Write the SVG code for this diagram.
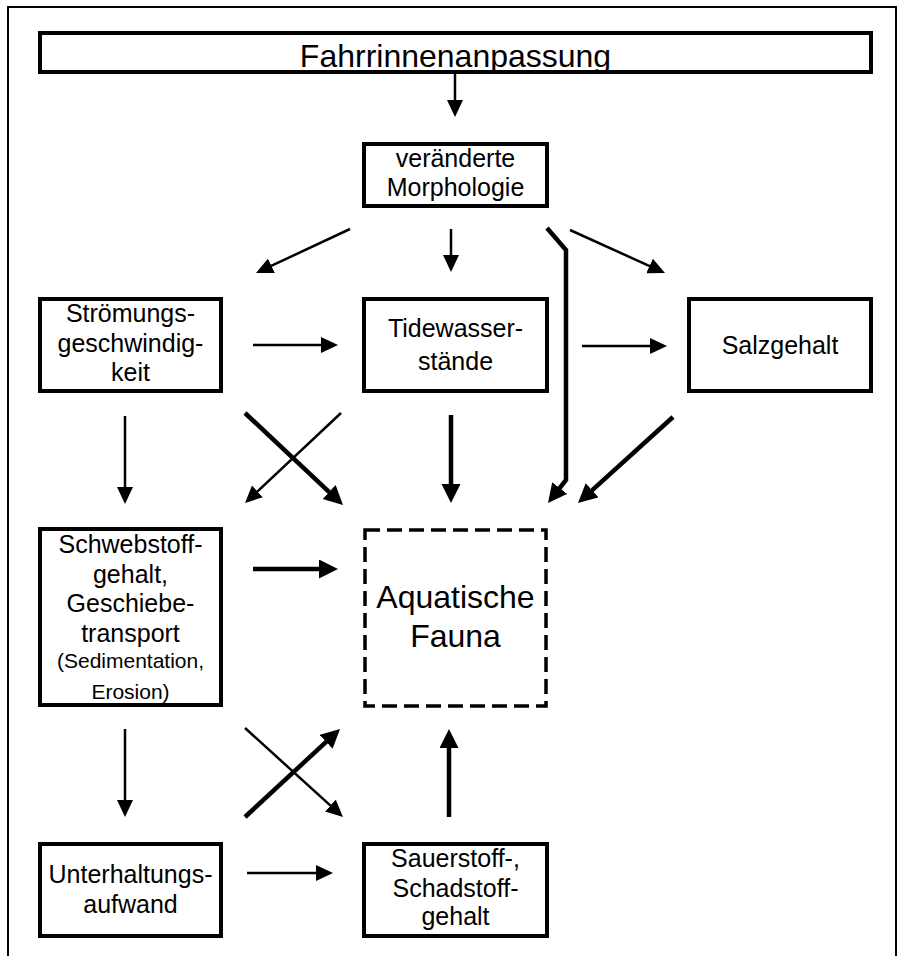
<svg xmlns="http://www.w3.org/2000/svg" width="897" height="956" viewBox="0 0 897 956">
<style>
  .box{fill:#fff;stroke:#000;stroke-width:4}
  .dash{fill:#fff;stroke:#000;stroke-width:3.5;stroke-dasharray:15 7}
  text{font-family:"Liberation Sans",Arial,sans-serif;fill:#000;text-anchor:middle}
  .t25{font-size:25px}
  .t21{font-size:21px}
  .t32{font-size:32px}
  .thin{stroke:#000;stroke-width:2.5;fill:none;marker-end:url(#ah)}
  .thick{stroke:#000;stroke-width:4.5;fill:none;marker-end:url(#ahb)}
</style>
<defs>
  <marker id="ah" markerUnits="userSpaceOnUse" markerWidth="20" markerHeight="20" viewBox="0 0 20 20" refX="5" refY="8" orient="auto">
    <path d="M0,0 L17,8 L0,16 z" fill="#000"/>
  </marker>
  <marker id="ahb" markerUnits="userSpaceOnUse" markerWidth="22" markerHeight="22" viewBox="0 0 22 22" refX="6" refY="9.5" orient="auto">
    <path d="M0,0 L19,9.5 L0,19 z" fill="#000"/>
  </marker>
</defs>
<rect x="0" y="0" width="897" height="956" fill="#fff"/>
<rect x="8" y="7" width="888" height="960" fill="none" stroke="#000" stroke-width="2"/>

<g id="connectors">
  <line class="thin" x1="455" y1="74" x2="455" y2="105"/>
  <line class="thin" x1="451" y1="229" x2="451" y2="260"/>
  <line class="thin" x1="350" y1="229" x2="266.9" y2="267.9"/>
  <line class="thin" x1="570" y1="230" x2="654.1" y2="268.1"/>
  <polyline class="thick" points="547,228 566,250 566,480 556,492.8"/>
  <line class="thin" x1="253" y1="345" x2="326" y2="345"/>
  <line class="thin" x1="582" y1="346" x2="655" y2="346"/>
  <line class="thin" x1="125" y1="416" x2="125" y2="492"/>
  <line class="thick" x1="245" y1="413" x2="333.5" y2="496.1"/>
  <line class="thin" x1="341" y1="413" x2="253.8" y2="494.8"/>
  <line class="thick" x1="451" y1="415" x2="451" y2="490"/>
  <line class="thick" x1="673" y1="417" x2="587.6" y2="494.3"/>
  <line class="thick" x1="253" y1="569" x2="325" y2="569"/>
  <line class="thin" x1="125" y1="729" x2="125" y2="805"/>
  <line class="thin" x1="245" y1="728" x2="334.1" y2="808.9"/>
  <line class="thick" x1="245" y1="817" x2="330.5" y2="737.8"/>
  <line class="thick" x1="449" y1="817" x2="449" y2="742"/>
  <line class="thin" x1="247" y1="873" x2="321" y2="873"/>
</g>

<g id="fahrrinnenanpassung">
  <rect class="box" x="40" y="33" width="831" height="39"/>
  <text class="t32" x="455.5" y="67">Fahrrinnenanpassung</text>
</g>
<g id="morphologie">
  <rect class="box" x="364" y="144" width="183" height="62"/>
  <text class="t25" x="455.5" y="167">veränderte</text>
  <text class="t25" x="455.5" y="196">Morphologie</text>
</g>
<g id="stroemung">
  <rect class="box" x="40" y="299" width="181" height="92"/>
  <text class="t25" x="130.5" y="322">Strömungs-</text>
  <text class="t25" x="130.5" y="352">geschwindig-</text>
  <text class="t25" x="130.5" y="381">keit</text>
</g>
<g id="tidewasser">
  <rect class="box" x="364" y="299" width="183" height="92"/>
  <text class="t25" x="455.5" y="337">Tidewasser-</text>
  <text class="t25" x="455.5" y="370">stände</text>
</g>
<g id="salzgehalt">
  <rect class="box" x="689" y="299" width="182" height="92"/>
  <text class="t25" x="780" y="354">Salzgehalt</text>
</g>
<g id="schwebstoff">
  <rect class="box" x="40" y="529" width="181" height="176"/>
  <text class="t25" x="130.5" y="553">Schwebstoff-</text>
  <text class="t25" x="130.5" y="583">gehalt,</text>
  <text class="t25" x="130.5" y="612">Geschiebe-</text>
  <text class="t25" x="130.5" y="642">transport</text>
  <text class="t21" x="130.5" y="668">(Sedimentation,</text>
  <text class="t21" x="130.5" y="699">Erosion)</text>
</g>
<g id="aquatische-fauna">
  <rect class="dash" x="365" y="530" width="181" height="176"/>
  <text class="t32" x="455.5" y="608">Aquatische</text>
  <text class="t32" x="455.5" y="647">Fauna</text>
</g>
<g id="unterhaltung">
  <rect class="box" x="40" y="844" width="181" height="92"/>
  <text class="t25" x="130.5" y="883">Unterhaltungs-</text>
  <text class="t25" x="130.5" y="913">aufwand</text>
</g>
<g id="sauerstoff">
  <rect class="box" x="364" y="844" width="183" height="92"/>
  <text class="t25" x="455.5" y="867">Sauerstoff-,</text>
  <text class="t25" x="455.5" y="897">Schadstoff-</text>
  <text class="t25" x="455.5" y="925">gehalt</text>
</g>
</svg>
